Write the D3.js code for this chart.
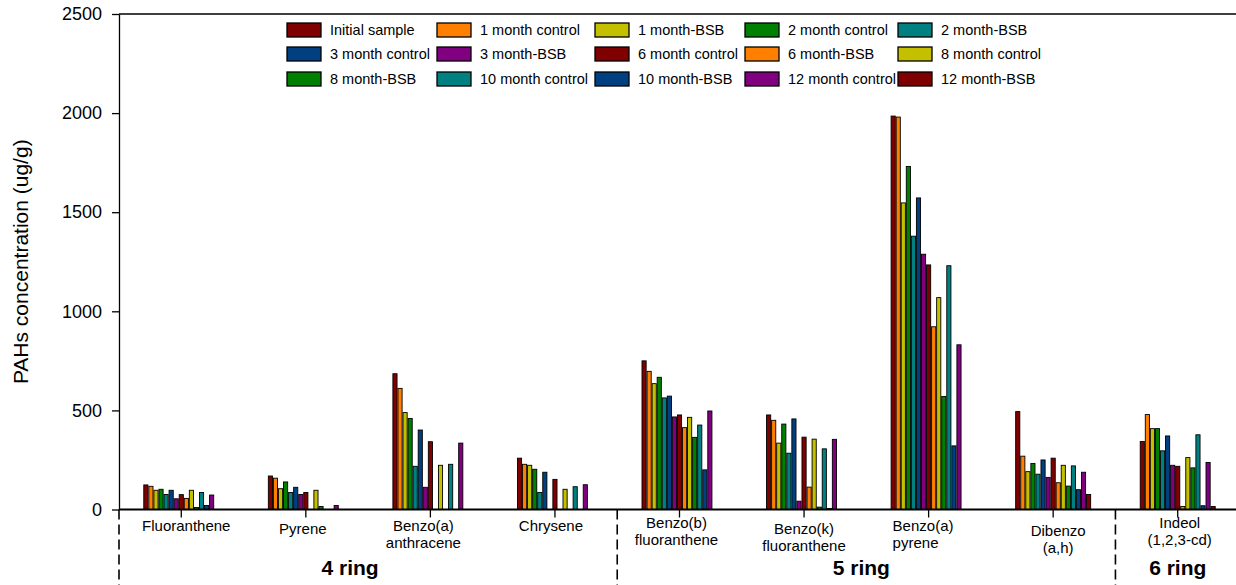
<!DOCTYPE html>
<html>
<head>
<meta charset="utf-8">
<script src="https://cdn.jsdelivr.net/npm/d3@7"></script>
<style>
  html, body { margin: 0; padding: 0; background: #fff; }
  svg text { font-family: Arial, "Liberation Sans", Helvetica, sans-serif; fill: #000; }
</style>
</head>
<body>
<svg id="chart" width="1236" height="585"></svg>
<script>
var categories = ["Fluoranthene", "Pyrene", "Benzo(a) anthracene", "Chrysene",
  "Benzo(b) fluoranthene", "Benzo(k) fluoranthene", "Benzo(a) pyrene", "Dibenzo (a,h)", "Indeol (1,2,3-cd)"];
var categoryLines = [["Fluoranthene"], ["Pyrene"], ["Benzo(a)", "anthracene"], ["Chrysene"],
  ["Benzo(b)", "fluoranthene"], ["Benzo(k)", "fluoranthene"], ["Benzo(a)", "pyrene"], ["Dibenzo", "(a,h)"], ["Indeol", "(1,2,3-cd)"]];

var seriesNames = ["Initial sample", "1 month control", "1 month-BSB", "2 month control", "2 month-BSB",
  "3 month control", "3 month-BSB", "6 month control", "6 month-BSB", "8 month control",
  "8 month-BSB", "10 month control", "10 month-BSB", "12 month control", "12 month-BSB"];

// one row per category, one value per series (ug/g)
var fluoranthene = [124, 117, 97, 102, 76, 97, 54, 75, 56, 97, 10, 86, 20, 73, 0];
var pyrene = [169, 158, 105, 139, 86, 112, 76, 86, 0, 97, 15, 0, 0, 20, 0];
var benzoAAnthracene = [685, 611, 489, 459, 218, 401, 112, 342, 0, 223, 0, 228, 0, 335, 0];
var chrysene = [259, 228, 223, 203, 86, 188, 0, 152, 0, 102, 0, 115, 0, 125, 0];
var benzoBFluoranthene = [750, 697, 635, 667, 563, 572, 467, 477, 413, 465, 364, 426, 200, 497, 0];
var benzoKFluoranthene = [477, 450, 335, 431, 284, 457, 42, 365, 113, 355, 12, 306, 5, 354, 0];
var benzoAPyrene = [1985, 1980, 1547, 1731, 1379, 1572, 1288, 1234, 922, 1069, 570, 1230, 321, 831, 0];
var dibenzoAH = [494, 269, 191, 232, 178, 250, 162, 259, 135, 223, 118, 220, 100, 188, 76];
var indeol = [343, 479, 408, 408, 296, 371, 223, 218, 15, 262, 210, 377, 19, 237, 15];

var values = [fluoranthene, pyrene, benzoAAnthracene, chrysene, benzoBFluoranthene,
  benzoKFluoranthene, benzoAPyrene, dibenzoAH, indeol];

var rings = [
  { label: "4 ring", from: 0, to: 4 },
  { label: "5 ring", from: 4, to: 8 },
  { label: "6 ring", from: 8, to: 9 }
];

var yTicks = [0, 500, 1000, 1500, 2000, 2500];

var palette = ["#7f0000", "#ff8000", "#c4c000", "#008000", "#008080", "#004080", "#800080"];

(function () {
  var svg = d3.select("#chart");
  var W = 1236, H = 585;
  var plotLeft = 119, plotTop = 14, plotBottom = 509.5, plotRight = 1240;

  svg.append("rect").attr("width", W).attr("height", H).attr("fill", "#fff");

  var y = d3.scaleLinear().domain([0, 2500]).range([plotBottom, plotTop]);
  var x0 = d3.scaleBand().domain(categories).range([plotLeft, plotRight]);
  var groupW = 75;
  var x1 = d3.scaleBand().domain(seriesNames).range([0, groupW]).paddingInner(0.18);
  var color = d3.scaleOrdinal().domain(seriesNames)
    .range(seriesNames.map(function (s, i) { return palette[i % palette.length]; }));

  function center(c) { return x0(c) + x0.bandwidth() / 2; }

  // bars
  var groups = svg.append("g").selectAll("g")
    .data(categories)
    .join("g")
    .attr("transform", function (c) { return "translate(" + (x0(c) + (x0.bandwidth() - groupW) / 2) + ",0)"; });

  groups.selectAll("rect")
    .data(function (c, i) {
      return seriesNames.map(function (s, j) { return { series: s, value: values[i][j] }; })
        .filter(function (d) { return d.value > 0; });
    })
    .join("rect")
    .attr("x", function (d) { return x1(d.series); })
    .attr("y", function (d) { return y(d.value); })
    .attr("width", x1.bandwidth())
    .attr("height", function (d) { return plotBottom - y(d.value); })
    .attr("fill", function (d) { return color(d.series); })
    .attr("stroke", "#000")
    .attr("stroke-width", 0.9);

  // y axis
  var yAxis = svg.append("g")
    .attr("transform", "translate(" + plotLeft + ",0)")
    .call(d3.axisLeft(y).tickValues(yTicks).tickFormat(d3.format("d"))
      .tickSize(7).tickPadding(10).tickSizeOuter(0));
  yAxis.select(".domain").attr("stroke", "#000").attr("stroke-width", 1.3);
  yAxis.selectAll(".tick line").attr("stroke", "#000").attr("stroke-width", 1.3);
  yAxis.selectAll(".tick text").attr("font-size", 18).attr("font-family", "Arial, 'Liberation Sans', sans-serif");

  // top frame line
  svg.append("line")
    .attr("x1", plotLeft).attr("x2", W).attr("y1", plotTop).attr("y2", plotTop)
    .attr("stroke", "#000").attr("stroke-width", 1.3);

  svg.append("text")
    .attr("transform", "translate(28," + ((plotTop + plotBottom) / 2) + ") rotate(-90)")
    .attr("text-anchor", "middle")
    .attr("font-size", 21)
    .text("PAHs concentration (ug/g)");

  // x axis baseline and category ticks
  svg.append("line")
    .attr("x1", plotLeft).attr("x2", W).attr("y1", plotBottom).attr("y2", plotBottom)
    .attr("stroke", "#000").attr("stroke-width", 1.8);

  svg.append("g").selectAll("line")
    .data(categories)
    .join("line")
    .attr("x1", center).attr("x2", center)
    .attr("y1", plotBottom).attr("y2", plotBottom + 8)
    .attr("stroke", "#000").attr("stroke-width", 1.3);

  // small per-label nudges, as in the original figure
  var labelNudge = {
    "Fluoranthene": { dx: 5, dy: 0 },
    "Pyrene": { dx: -3, dy: 3 },
    "Benzo(a) anthracene": { dx: -7, dy: 0 },
    "Chrysene": { dx: -4, dy: 0 },
    "Benzo(b) fluoranthene": { dx: -3, dy: -3 },
    "Benzo(k) fluoranthene": { dx: 0, dy: 3 },
    "Benzo(a) pyrene": { dx: -6, dy: 0 },
    "Dibenzo (a,h)": { dx: 5, dy: 5 },
    "Indeol (1,2,3-cd)": { dx: 2, dy: -3 }
  };

  var labels = svg.append("g").selectAll("text")
    .data(categories)
    .join("text")
    .attr("font-size", 15)
    .attr("text-anchor", function (c) { return c === "Benzo(a) pyrene" ? "start" : "middle"; })
    .attr("x", function (c) {
      var cx = center(c) + labelNudge[c].dx;
      return c === "Benzo(a) pyrene" ? cx - 30 : cx;
    })
    .attr("y", function (c) { return 531 + labelNudge[c].dy; });

  labels.selectAll("tspan")
    .data(function (c, i) { return categoryLines[i]; })
    .join("tspan")
    .attr("x", function () { return d3.select(this.parentNode).attr("x"); })
    .attr("dy", function (d, i) { return i === 0 ? 0 : 17; })
    .text(function (d) { return d; });

  // ring separators
  svg.append("g").selectAll("line")
    .data(rings)
    .join("line")
    .attr("x1", function (r) { return plotLeft + r.from * x0.step(); })
    .attr("x2", function (r) { return plotLeft + r.from * x0.step(); })
    .attr("y1", plotBottom).attr("y2", H)
    .attr("stroke", "#000").attr("stroke-width", 1.6)
    .attr("stroke-dasharray", "10,5");

  var ringNudge = { "4 ring": -18, "5 ring": -5, "6 ring": 0 };
  svg.append("g").selectAll("text")
    .data(rings)
    .join("text")
    .attr("x", function (r) { return plotLeft + (r.from + r.to) / 2 * x0.step() + ringNudge[r.label]; })
    .attr("y", 575)
    .attr("text-anchor", "middle")
    .attr("font-size", 21)
    .attr("font-weight", "bold")
    .text(function (r) { return r.label; });

  // legend: 3 rows of 5
  var legendCols = [287, 437, 595, 745, 898];
  var legendRows = [23, 47, 72];
  var legend = svg.append("g").selectAll("g")
    .data(seriesNames)
    .join("g")
    .attr("transform", function (s, i) {
      return "translate(" + legendCols[i % 5] + "," + legendRows[Math.floor(i / 5)] + ")";
    });
  legend.append("rect")
    .attr("width", 34).attr("height", 14)
    .attr("fill", function (s) { return color(s); })
    .attr("stroke", "#000").attr("stroke-width", 1.3);
  legend.append("text")
    .attr("x", 43).attr("y", 12)
    .attr("font-size", 14.5)
    .text(function (s) { return s; });
})();
</script>
</body>
</html>
